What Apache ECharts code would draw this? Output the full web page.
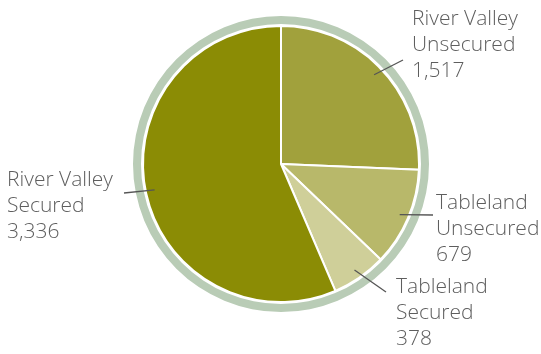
<!DOCTYPE html>
<html><head><meta charset="utf-8">
<script src="https://cdn.jsdelivr.net/npm/echarts@6/dist/echarts.min.js"></script>
<style>html,body{margin:0;padding:0;background:#fff}#c{width:541px;height:354px}</style>
</head><body><div id="c"></div>
<script>
// ---- data ----
const categories = ['River Valley Unsecured', 'Tableland Unsecured', 'Tableland Secured', 'River Valley Secured'];
const values = [1517, 679, 378, 3336];

// ---- styles / layout ----
const colors = ['#a1a13c', '#b8b86a', '#cfcf99', '#8b8c05'];
const ringColor = '#b9ccb6';
const CX = 281, CY = 164, R = 138, LINE_START_R = 129;
const labelAnchors = [[412, 45], [436, 229], [396, 313], [7, 206]];
const lineEnds = [[403, 60], [433, 215], [386, 292], [124, 193]];

const chart = echarts.init(document.getElementById('c'), null, {renderer: 'canvas'});
const fmt = n => n.toLocaleString('en-US');
const pieData = (fill) => categories.map((c, i) => ({name: c, value: values[i], itemStyle: {color: fill ? colors[i] : 'rgba(0,0,0,0)'}}));

chart.setOption({
  animation: false,
  series: [
    {
      type: 'pie', silent: true, center: [CX, CY], radius: [140, 148], z: 1,
      label: {show: false}, labelLine: {show: false},
      emphasis: {disabled: true},
      data: [{value: 1, itemStyle: {color: ringColor}}]
    },
    {
      type: 'pie', center: [CX, CY], radius: [0, R], z: 2,
      startAngle: 90, clockwise: true,
      emphasis: {disabled: true}, silent: true,
      itemStyle: {borderColor: '#ffffff', borderWidth: 2},
      label: {show: false}, labelLine: {show: false},
      data: pieData(true)
    },
    {
      type: 'pie', center: [CX, CY], radius: [0, R], z: 3,
      startAngle: 90, clockwise: true, avoidLabelOverlap: false,
      emphasis: {disabled: true}, silent: true,
      itemStyle: {borderWidth: 0},
      label: {
        show: true, position: 'outside',
        fontFamily: 'Open Sans', fontWeight: 300, fontSize: 21, lineHeight: 26, color: '#5e5e5e',
        formatter: p => p.name.replace(/ (\S+)$/, '\n$1') + '\n' + fmt(p.value)
      },
      labelLine: {show: true, length: 20, length2: 0, lineStyle: {color: '#555555', width: 1.3}},
      labelLayout: function (p) {
        const i = p.dataIndex;
        const res = {x: labelAnchors[i][0], y: labelAnchors[i][1], align: 'left', verticalAlign: 'middle'};
        const pts = p.labelLinePoints;
        if (pts && pts.length >= 2) {
          const p0 = pts[0], p1 = pts[1];
          const dx = p1[0] - p0[0], dy = p1[1] - p0[1];
          const len = Math.hypot(dx, dy) || 1;
          const back = R - LINE_START_R;
          const s = [p0[0] - dx / len * back, p0[1] - dy / len * back];
          res.labelLinePoints = [s, lineEnds[i], lineEnds[i]];
        }
        return res;
      },
      data: pieData(false)
    }
  ]
});
</script>
</body></html>
